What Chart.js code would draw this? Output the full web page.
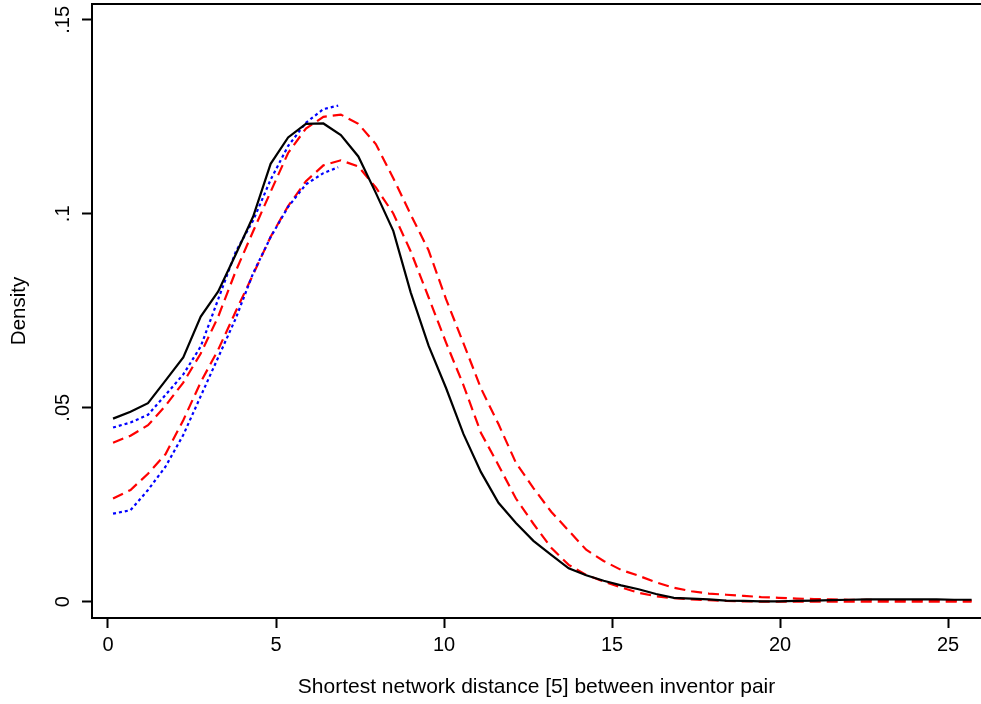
<!DOCTYPE html>
<html><head><meta charset="utf-8">
<script src="https://cdn.jsdelivr.net/npm/chart.js@4.4.1/dist/chart.umd.min.js"></script>
<style>html,body{margin:0;padding:0;background:#fff;}</style>
</head><body>
<canvas id="c" width="981" height="704"></canvas>
<script>
// Evaluation grid (distance)
const xs = [0.15, 0.67, 1.19, 1.71, 2.24, 2.76, 3.28, 3.80, 4.32, 4.84, 5.36, 5.89, 6.41, 6.93, 7.45, 7.97, 8.49, 9.01, 9.54, 10.06, 10.58, 11.10, 11.62, 12.14, 12.66, 13.19, 13.71, 14.23, 14.75, 15.27, 15.79, 16.31, 16.84, 17.36, 17.88, 18.40, 18.92, 19.44, 19.96, 20.49, 21.01, 21.53, 22.05, 22.57, 23.09, 23.61, 24.14, 24.66, 25.18, 25.70];
const blueXs = [0.15, 0.67, 1.19, 1.71, 2.24, 2.76, 3.28, 3.80, 4.32, 4.84, 5.36, 5.89, 6.41, 6.85];

// Densities
const blackSolid = [0.0472, 0.0490, 0.0512, 0.0570, 0.0630, 0.0735, 0.0800, 0.0895, 0.0993, 0.1129, 0.1197, 0.1232, 0.1233, 0.1203, 0.1148, 0.1054, 0.0956, 0.0797, 0.0660, 0.0551, 0.0432, 0.0334, 0.0255, 0.0203, 0.0157, 0.0121, 0.0086, 0.0068, 0.0054, 0.0042, 0.0032, 0.0020, 0.0010, 0.0008, 0.0006, 0.0003, 0.0002, 0.0001, 0.0001, 0.0002, 0.0003, 0.0004, 0.0005, 0.0006, 0.0006, 0.0006, 0.0006, 0.0006, 0.0005, 0.0005];
const redUpper = [0.0410, 0.0428, 0.0455, 0.0505, 0.0565, 0.0640, 0.0735, 0.0852, 0.0955, 0.1057, 0.1157, 0.1220, 0.1250, 0.1256, 0.1232, 0.1180, 0.1092, 0.0998, 0.0906, 0.0780, 0.0666, 0.0550, 0.0458, 0.0358, 0.0293, 0.0232, 0.0183, 0.0134, 0.0105, 0.0082, 0.0067, 0.0050, 0.0036, 0.0027, 0.0021, 0.0018, 0.0015, 0.0012, 0.0010, 0.0008, 0.0007, 0.0006, 0.0005, 0.0005, 0.0004, 0.0004, 0.0004, 0.0004, 0.0003, 0.0003];
const redLower = [0.0266, 0.0288, 0.0330, 0.0380, 0.0468, 0.0566, 0.0650, 0.0748, 0.0844, 0.0941, 0.1020, 0.1084, 0.1125, 0.1138, 0.1122, 0.1068, 0.1001, 0.0903, 0.0785, 0.0668, 0.0558, 0.0435, 0.0352, 0.0266, 0.0201, 0.0139, 0.0095, 0.0069, 0.0052, 0.0037, 0.0023, 0.0014, 0.0009, 0.0006, 0.0004, 0.0002, 0.0001, 0.0000, 0.0000, 0.0000, 0.0000, 0.0000, 0.0000, 0.0000, 0.0000, 0.0000, 0.0000, 0.0000, 0.0000, 0.0000];
const blueUpper = [0.0449, 0.0462, 0.0482, 0.0533, 0.0586, 0.0658, 0.0780, 0.0902, 0.0983, 0.1088, 0.1175, 0.1235, 0.1270, 0.1279];
const blueLower = [0.0227, 0.0236, 0.0288, 0.0348, 0.0430, 0.0530, 0.0630, 0.0730, 0.0847, 0.0940, 0.1018, 0.1076, 0.1105, 0.1120];

// Ticks
const xTickValues = [0, 5, 10, 15, 20, 25];
const xTickLabels = ['0', '5', '10', '15', '20', '25'];
const yTickValues = [0, 0.05, 0.1, 0.15];
const yTickLabels = ['0', '.05', '.1', '.15'];

const xTitle = 'Shortest network distance [5] between inventor pair';
const yTitle = 'Density';

const FONT = '"Liberation Sans", Arial, Helvetica, sans-serif';

function pts(xv, yv) { return yv.map((v, i) => ({ x: xv[i], y: v })); }

const topBorder = {
  id: 'topBorder',
  afterDraw(chart) {
    const { ctx, chartArea } = chart;
    ctx.save();
    ctx.strokeStyle = '#000';
    ctx.lineWidth = 2;
    ctx.beginPath();
    ctx.moveTo(chartArea.left - 1, chartArea.top);
    ctx.lineTo(chartArea.right, chartArea.top);
    ctx.stroke();
    ctx.restore();
  }
};

new Chart(document.getElementById('c'), {
  type: 'line',
  data: {
    datasets: [
      { data: pts(xs, blackSolid), borderColor: '#000000', borderWidth: 2.2 },
      { data: pts(blueXs, blueUpper), borderColor: '#0000ff', borderWidth: 2.2, borderDash: [3, 3] },
      { data: pts(blueXs, blueLower), borderColor: '#0000ff', borderWidth: 2.2, borderDash: [3, 3] },
      { data: pts(xs, redUpper), borderColor: '#ff0000', borderWidth: 2.2, borderDash: [11, 6] },
      { data: pts(xs, redLower), borderColor: '#ff0000', borderWidth: 2.2, borderDash: [11, 6] }
    ]
  },
  options: {
    responsive: false,
    animation: false,
    devicePixelRatio: 1,
    layout: { padding: { top: 4, right: 0, left: 0, bottom: 0 } },
    elements: { point: { radius: 0 }, line: { tension: 0, fill: false } },
    plugins: { legend: { display: false }, tooltip: { enabled: false } },
    scales: {
      x: {
        type: 'linear',
        min: -0.476,
        max: 25.98,
        afterBuildTicks: s => { s.ticks = xTickValues.map(v => ({ value: v })); },
        afterFit: s => { s.height = 86; s.paddingLeft = 0; s.paddingRight = 0; },
        ticks: {
          autoSkip: false,
          maxRotation: 0,
          padding: 5,
          color: '#000',
          font: { family: FONT, size: 20 },
          callback: (v) => xTickLabels[xTickValues.indexOf(v)]
        },
        grid: { drawOnChartArea: false, drawTicks: true, tickLength: 10, tickColor: '#000', tickWidth: 2 },
        border: { display: true, color: '#000', width: 2 },
        title: { display: true, text: xTitle, color: '#000', font: { family: FONT, size: 21 }, padding: { top: 0, bottom: 4 } }
      },
      y: {
        type: 'linear',
        min: -0.0042,
        max: 0.1541,
        afterBuildTicks: s => { s.ticks = yTickValues.map(v => ({ value: v })); },
        afterFit: s => { s.width = 92; s.paddingTop = 0; s.paddingBottom = 0; },
        ticks: {
          autoSkip: false,
          minRotation: 90,
          maxRotation: 90,
          crossAlign: 'center',
          padding: 5,
          color: '#000',
          font: { family: FONT, size: 20 },
          callback: (v) => yTickLabels[yTickValues.indexOf(v)]
        },
        grid: { drawOnChartArea: false, drawTicks: true, tickLength: 10, tickColor: '#000', tickWidth: 2 },
        border: { display: true, color: '#000', width: 2 },
        title: { display: true, text: yTitle, color: '#000', font: { family: FONT, size: 20.5 }, padding: { top: 7, bottom: 0 } }
      }
    }
  },
  plugins: [topBorder]
});
</script>
</body></html>
